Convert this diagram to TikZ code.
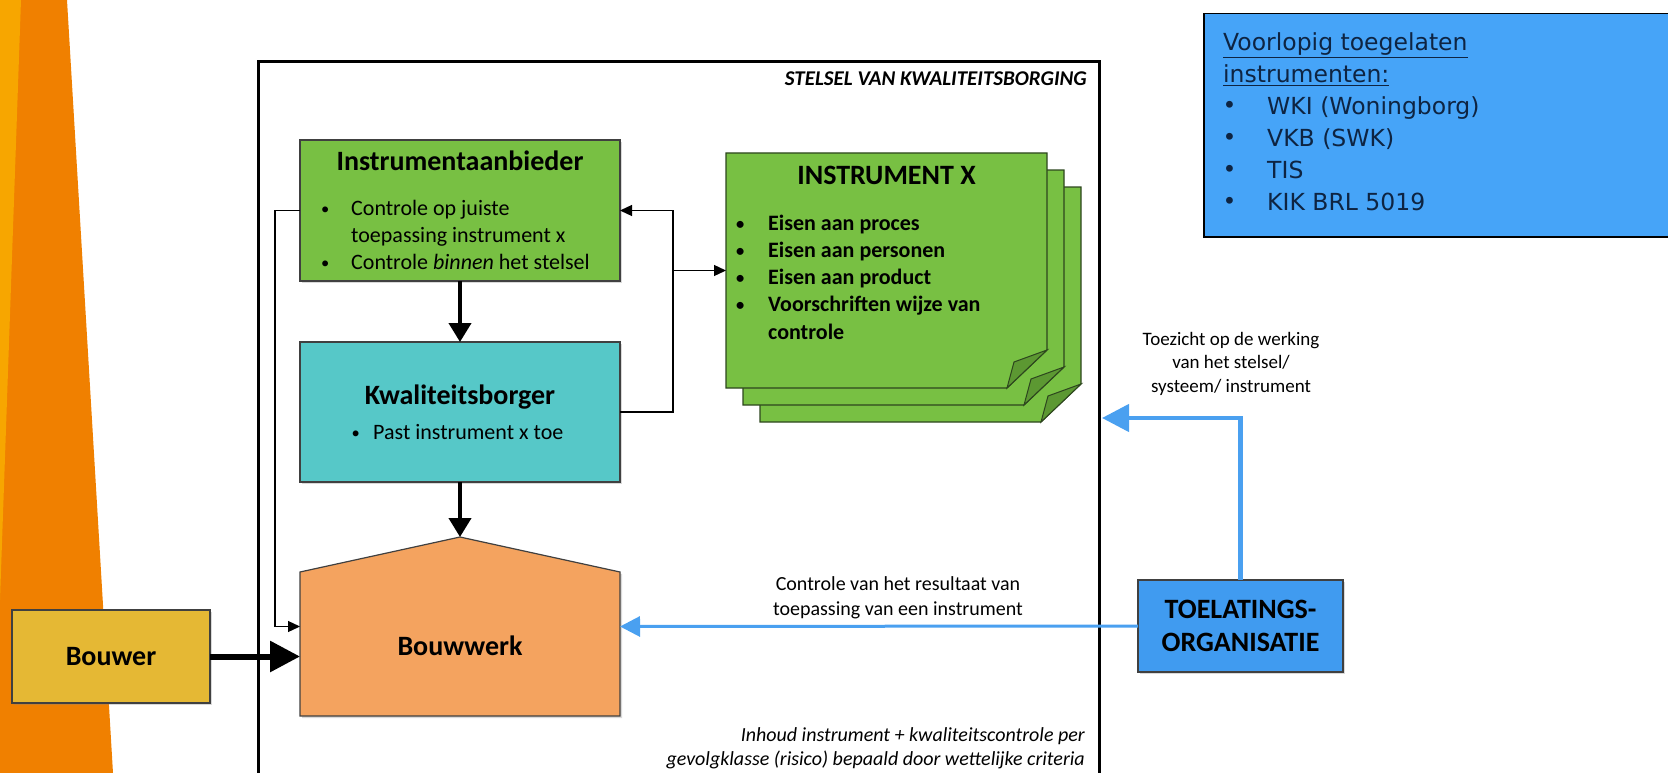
\documentclass[tikz,border=0pt]{standalone}
\usepackage{fontspec}
\usepackage{graphicx}
\setmainfont{Carlito}
\newfontfamily\listfont{DejaVu Sans}
\usetikzlibrary{positioning,arrows.meta,shadows}

\definecolor{decodark}{RGB}{240,128,0}
\definecolor{decolight}{RGB}{247,166,0}
\definecolor{bouwergold}{RGB}{229,184,52}
\definecolor{aanbiedergreen}{RGB}{120,192,67}
\definecolor{flapgreen}{RGB}{92,152,50}
\definecolor{pageline}{RGB}{45,70,30}
\definecolor{borgerteal}{RGB}{86,200,200}
\definecolor{houseorange}{RGB}{244,163,95}
\definecolor{toelblue}{RGB}{64,155,240}
\definecolor{arrowblue}{RGB}{74,160,240}
\definecolor{listblue}{RGB}{70,164,248}
\definecolor{listtext}{RGB}{14,36,66}

\newcommand\bulletbox[2][0.75]{\makebox[#2][l]{\hspace{1.5pt}\raisebox{1pt}{\scalebox{#1}{\textbullet}}}}

\tikzset{
	x=1pt, y=-1pt, % coordinates are pixels of the sheet, y runs down
	box/.style={draw=black!75, line width=1.2pt, inner sep=0pt, outer sep=0pt,
		drop shadow={shadow xshift=2pt, shadow yshift=-2pt, opacity=0.3}}, % every coloured block
	title/.style={font=\fontsize{28}{34}\selectfont\bfseries, inner sep=0pt, anchor=base}, % block headings
	items/.style={font=\fontsize{22}{27}\selectfont, inner sep=0pt, anchor=base west}, % bullet lists
	remark/.style={font=\fontsize{20}{25}\selectfont, inner sep=0pt}, % loose texts
	feedline/.style={line width=1.3pt, -{Triangle[length=12pt, width=11pt]}},
	flowline/.style={line width=4pt, -{Triangle[length=19pt, width=22pt]}},
	bouwline/.style={line width=6pt, -{Triangle[length=30pt, width=30pt]}},
	controleline/.style={draw=arrowblue, line width=3pt, -{Triangle[length=20pt, width=20pt]}},
	toezichtline/.style={draw=arrowblue, line width=4.5pt, -{Triangle[length=27pt, width=27pt]}},
	page/.style={draw=pageline, line width=1.2pt, fill=aanbiedergreen},
	flap/.style={draw=pageline, line width=1pt, fill=flapgreen},
}

\begin{document}
\begin{tikzpicture}
	\useasboundingbox (0,0) rectangle (1668,773);
	% orange strip on the left
	\fill[decodark] (0,0) -- (67,0) -- (113,773) -- (0,773) -- cycle;
	\fill[decolight] (0,0) -- (21,0) -- (0,600) -- cycle;

	% frame of the stelsel
	\node[draw, line width=3pt, minimum width=841pt, minimum height=740pt, inner sep=0pt, outer sep=0pt, anchor=north west] (stelsel) at (258,62) {};
	\node[remark, font=\fontsize{21}{25}\selectfont\bfseries\itshape, anchor=base east] (stelseltitle) at (1087,86) {STELSEL VAN KWALITEITSBORGING};

	\node[box, fill=bouwergold, minimum width=198pt, minimum height=93pt, font=\fontsize{28}{34}\selectfont\bfseries] (bouwer) at (111,656.5) {Bouwer};

	\node[box, fill=aanbiedergreen, minimum width=320pt, minimum height=141pt] (aanbieder) at (460,210.5) {};
	\node[title] (aanbiedertitle) at (460,171) {Instrumentaanbieder};
	\node[items] (aanbiederitems) at (319.5,215) {\begin{tabular}[t]{@{}l@{}l@{}}\bulletbox{31.5pt} & Controle op juiste\\ & toepassing instrument x\\ \bulletbox{31.5pt} & Controle \textit{binnen} het stelsel\end{tabular}};

	\node[box, fill=borgerteal, minimum width=320pt, minimum height=140pt, below=61pt of aanbieder] (borger) {};
	\node[title] (borgertitle) at (460,404) {Kwaliteitsborger};
	\node[items] (borgeritems) at (350,439) {\bulletbox{23pt}Past instrument x toe};

	% house shape round the Bouwwerk node
	\node[minimum width=320pt, minimum height=179pt, inner sep=0pt, outer sep=0pt, below=55pt of borger] (bouwwerk) {};
	\draw[box, fill=houseorange] (bouwwerk.north) -- ([yshift=-35pt]bouwwerk.north east) -- (bouwwerk.south east) -- (bouwwerk.south west) -- ([yshift=-35pt]bouwwerk.north west) -- cycle;
	\node[title] (bouwwerktitle) at (460,655) {Bouwwerk};

	% stack of instrument pages
	\foreach \d in {34,17,0}{
		\draw[page] (726+\d,153+\d) -- (1047+\d,153+\d) -- (1047+\d,350+\d) -- (1007+\d,388+\d) -- (726+\d,388+\d) -- cycle;
		\draw[flap] (1047+\d,350+\d) -- (1014+\d,362+\d) -- (1007+\d,388+\d) -- cycle;
	}
	\node[minimum width=321pt, minimum height=235pt, inner sep=0pt, outer sep=0pt] (instr) at (886.5,270.5) {};
	\node[title] (instrtitle) at (886.5,184) {INSTRUMENT X};
	\node[items, font=\fontsize{22}{27.3}\selectfont\bfseries] (instritems) at (734.5,230) {\begin{tabular}[t]{@{}l@{}l@{}}\bulletbox{33.5pt} & Eisen aan proces\\ \bulletbox{33.5pt} & Eisen aan personen\\ \bulletbox{33.5pt} & Eisen aan product\\ \bulletbox{33.5pt} & Voorschriften wijze van\\ & controle\end{tabular}};

	\node[box, fill=toelblue, minimum width=205pt, minimum height=92pt, align=center, font=\fontsize{28}{33}\selectfont\bfseries] (toel) at (1240.5,626) {TOELATINGS-\\ORGANISATIE};

	\node[remark, anchor=base] (controletext) at (898,590) {\begin{tabular}[t]{@{}c@{}}Controle van het resultaat van\\toepassing van een instrument\end{tabular}};
	\node[remark, font=\fontsize{19}{23.5}\selectfont, anchor=base] (toezichttext) at (1231,345) {\begin{tabular}[t]{@{}c@{}}Toezicht op de werking\\van het stelsel/\\systeem/ instrument\end{tabular}};
	\node[remark, font=\fontsize{20}{24}\selectfont\itshape, anchor=base east] (inhoudtext) at (1085,741) {\begin{tabular}[t]{@{}r@{}}Inhoud instrument + kwaliteitscontrole per\\gevolgklasse (risico) bepaald door wettelijke criteria\end{tabular}};

	% list of admitted instruments
	\node[draw=black, line width=1.5pt, fill=listblue, minimum width=470pt, minimum height=223pt, inner sep=0pt, anchor=north west] (toegelaten) at (1203,13) {};
	\node[inner sep=0pt, anchor=base west, text=listtext, font=\listfont\fontsize{23.5}{32}\selectfont] (toegelatenitems) at (1221,51) {\begin{tabular}[t]{@{}l@{}l@{}}\multicolumn{2}{@{}l@{}}{\hspace{2pt}\underline{Voorlopig toegelaten}}\\ \multicolumn{2}{@{}l@{}}{\hspace{2pt}\underline{instrumenten:}}\\ \bulletbox[1]{46pt} & WKI (Woningborg)\\ \bulletbox[1]{46pt} & VKB (SWK)\\ \bulletbox[1]{46pt} & TIS\\ \bulletbox[1]{46pt} & KIK BRL 5019\end{tabular}};

	% connectors
	\draw[flowline] (aanbieder) -- (borger);
	\draw[flowline] (borger) -- (bouwwerk);
	\draw[feedline] (aanbieder.west) -- ++(-25,0) |- (bouwwerk.west);
	\draw[feedline] (borger.east) -- ++(53,0) |- (aanbieder.east);
	\draw[feedline] ([xshift=53pt]borger.east) |- (instr.west);
	\draw[bouwline] (bouwer) -- (bouwer -| bouwwerk.west);
	\draw[controleline] (toel.west) -- (bouwwerk.east);
	\draw[toezichtline] (toel.north) |- ([xshift=3pt, yshift=14pt]stelsel.east);
\end{tikzpicture}
\end{document}
